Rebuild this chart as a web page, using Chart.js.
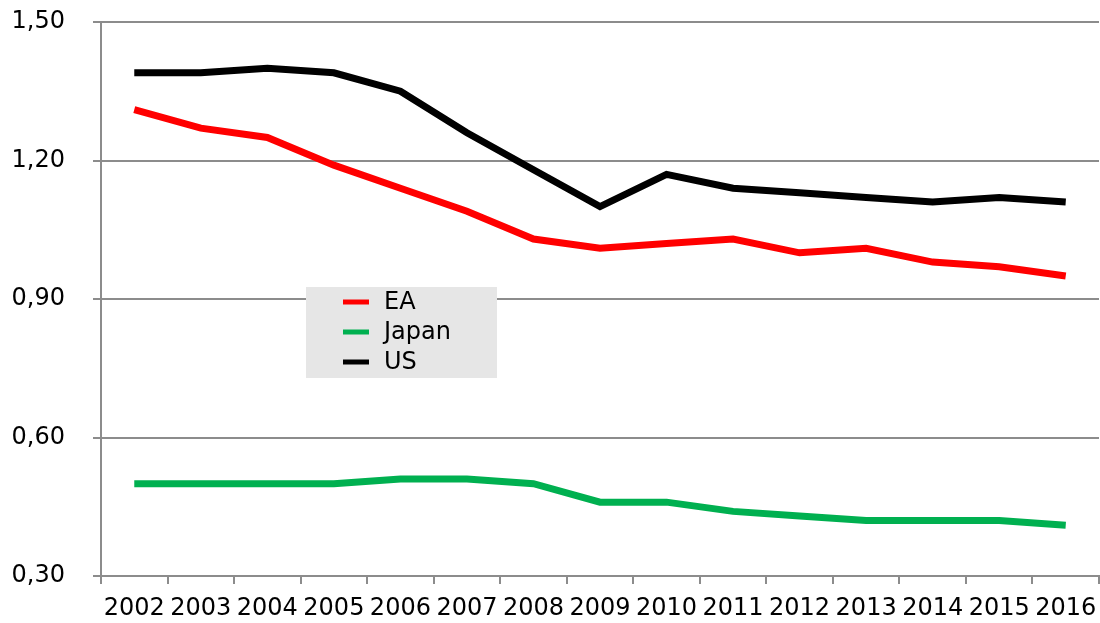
<!DOCTYPE html>
<html>
<head>
<meta charset="utf-8">
<script src="https://cdn.jsdelivr.net/npm/chart.js@4"></script>
<style>
  body { margin: 0; background: #fff; }
</style>
</head>
<body>
<canvas id="myChart" width="1100" height="623"></canvas>
<script>
const years = ['2002','2003','2004','2005','2006','2007','2008','2009','2010','2011','2012','2013','2014','2015','2016'];
const eaValues    = [1.31,1.27,1.25,1.19,1.14,1.09,1.03,1.01,1.02,1.03,1.00,1.01,0.98,0.97,0.95];
const japanValues = [0.50,0.50,0.50,0.50,0.51,0.51,0.50,0.46,0.46,0.44,0.43,0.42,0.42,0.42,0.41];
const usValues    = [1.39,1.39,1.40,1.39,1.35,1.26,1.18,1.10,1.17,1.14,1.13,1.12,1.11,1.12,1.11];
const yTicks = [0.30, 0.60, 0.90, 1.20, 1.50];

const gridColor = '#8c8c8c';
const fontFamily = '"DejaVu Sans", Verdana, sans-serif';

// legend box sitting inside the plot, like the original
const boxLegend = {
  id: 'boxLegend',
  afterDraw(chart) {
    const ctx = chart.ctx;
    ctx.save();
    ctx.fillStyle = '#e6e6e6';
    ctx.fillRect(306, 287, 191, 91);
    const items = chart.data.datasets;
    ctx.font = '24px ' + fontFamily;
    ctx.textBaseline = 'middle';
    for (let i = 0; i < items.length; i++) {
      const y = 302 + i * 30;
      ctx.strokeStyle = items[i].borderColor;
      ctx.lineWidth = 5;
      ctx.beginPath();
      ctx.moveTo(343, y);
      ctx.lineTo(369, y);
      ctx.stroke();
      ctx.fillStyle = '#000';
      ctx.fillText(items[i].label, 384, y + 1);
    }
    ctx.restore();
  }
};

const data = {
  labels: years,
  datasets: [
    { label: 'EA', data: eaValues, borderColor: '#ff0000', backgroundColor: '#ff0000' },
    { label: 'Japan', data: japanValues, borderColor: '#00b050', backgroundColor: '#00b050' },
    { label: 'US', data: usValues, borderColor: '#000000', backgroundColor: '#000000' }
  ]
};

const config = {
  type: 'line',
  data: data,
  options: {
    responsive: false,
    animation: false,
    layout: { padding: { top: 22, right: 1, left: 0, bottom: 0 } },
    elements: {
      line: { borderWidth: 7, tension: 0, borderCapStyle: 'butt', borderJoinStyle: 'miter' },
      point: { radius: 0 }
    },
    plugins: {
      legend: { display: false },
      tooltip: { enabled: false }
    },
    scales: {
      x: {
        offset: true,
        grid: { offset: true, drawOnChartArea: false, drawTicks: true, tickLength: 8, color: gridColor, lineWidth: 2 },
        border: { display: true, color: gridColor, width: 2 },
        ticks: { autoSkip: false, maxRotation: 0, minRotation: 0, padding: 10, color: '#000', font: { family: fontFamily, size: 24 } },
        afterFit(scale) {
          scale.height = 47;
          scale.paddingLeft = 0;
          scale.paddingRight = 0;
        }
      },
      y: {
        min: 0.3,
        max: 1.5,
        afterBuildTicks(scale) { scale.ticks = yTicks.map(v => ({ value: v })); },
        grid: { color: gridColor, lineWidth: 2, tickLength: 8 },
        border: { display: true, color: gridColor, width: 2 },
        ticks: {
          padding: 28,
          color: '#000',
          font: { family: fontFamily, size: 24 },
          callback: v => Number(v).toFixed(2).replace('.', ',')
        },
        afterFit(scale) {
          scale.width = 101;
          scale.paddingTop = 0;
          scale.paddingBottom = 0;
        }
      }
    }
  },
  plugins: [boxLegend]
};

new Chart(document.getElementById('myChart'), config);
</script>
</body>
</html>
